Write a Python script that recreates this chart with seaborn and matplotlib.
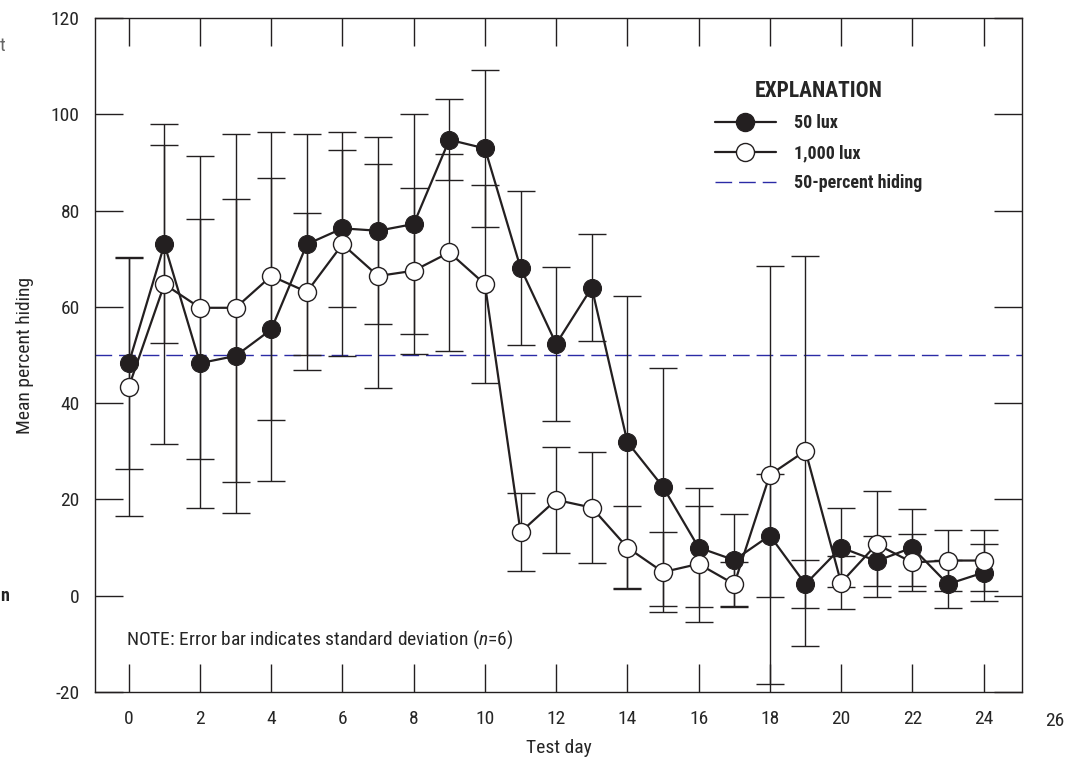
import numpy as np
import pandas as pd
import matplotlib
matplotlib.use("Agg")
import matplotlib.pyplot as plt
import seaborn as sns
from matplotlib.lines import Line2D

# Data
days = list(range(25))
lux50_mean = [48.3, 73.0, 48.3, 49.8, 55.3, 73.0, 76.3, 75.8, 77.2, 94.7, 92.9, 68.1, 52.3,
              64.0, 31.9, 22.6, 10.0, 7.4, 12.5, 2.4, 10.0, 7.2, 10.0, 2.4, 4.8]
lux50_sd = [22.0, 20.6, 30.0, 32.7, 31.5, 23.0, 16.3, 19.4, 22.8, 8.4, 16.3, 16.0, 16.0,
            11.1, 30.4, 24.7, 12.4, 9.5, 12.7, 5.0, 8.2, 5.2, 8.0, 5.0, 5.9]
lux1000_mean = [43.4, 64.7, 59.8, 59.8, 66.4, 63.1, 73.0, 66.4, 67.5, 71.3, 64.7, 13.2, 19.9,
                18.3, 10.0, 4.9, 6.6, 2.4, 25.1, 30.1, 2.7, 10.7, 6.9, 7.3, 7.3]
lux1000_sd = [26.8, 33.2, 31.5, 36.2, 30.0, 16.3, 23.3, 23.3, 17.2, 20.4, 20.6, 8.1, 11.0,
              11.6, 8.7, 8.3, 12.0, 4.7, 43.4, 40.5, 5.5, 11.0, 6.0, 6.3, 6.3]
threshold = 50

df = pd.DataFrame({
    "day": days,
    "lux50": lux50_mean, "lux50_sd": lux50_sd,
    "lux1000": lux1000_mean, "lux1000_sd": lux1000_sd,
})

sns.set_style("ticks")
plt.rcParams["font.family"] = ["Roboto Condensed", "DejaVu Sans"]
plt.rcParams["font.stretch"] = "condensed"
plt.rcParams["axes.unicode_minus"] = False
plt.rcParams["mathtext.fontset"] = "custom"
plt.rcParams["mathtext.rm"] = "Roboto Condensed"
plt.rcParams["mathtext.it"] = "Roboto Condensed:italic"

ink = "#231f20"
blue = "#2b2ba6"

fig = plt.figure(figsize=(10.66, 7.58), dpi=100)
ax = fig.add_axes([0.0891, 0.0871, 0.8696, 0.8892])

# error bars (drawn first, markers go on top)
for col in ["lux50", "lux1000"]:
    ax.errorbar(df["day"], df[col], yerr=df[col + "_sd"], fmt="none", ecolor=ink,
                elinewidth=1.0, capsize=10, capthick=1.0, zorder=2)

ax.axhline(threshold, color=blue, lw=1.0, dashes=(12, 5), zorder=1)

sns.lineplot(data=df, x="day", y="lux50", ax=ax, color=ink, lw=1.6,
             marker="o", markersize=13, markerfacecolor=ink,
             markeredgecolor=ink, zorder=3)
sns.lineplot(data=df, x="day", y="lux1000", ax=ax, color=ink, lw=1.6,
             marker="o", markersize=13, markerfacecolor="white",
             markeredgecolor=ink, markeredgewidth=1.0, zorder=4)

ax.set_xlim(-0.95, 25.08)
ax.set_ylim(-20, 120)
ax.set_xticks(range(0, 25, 2))
ax.set_yticks(range(-20, 121, 20))
ax.tick_params(axis="both", direction="in", length=20, width=1.0, color=ink,
               labelsize=14, top=True, right=True)
ax.tick_params(axis="x", pad=13)
ax.tick_params(axis="y", pad=11)
for s in ax.spines.values():
    s.set_linewidth(1.0)
    s.set_color(ink)

# "26" label sits just beyond the right frame
ax.text(26, -0.0295, "26", transform=ax.get_xaxis_transform(), ha="center", va="top",
        fontsize=14, clip_on=False)

ax.set_xlabel("Test day", fontsize=14, labelpad=8)
ax.set_ylabel("Mean percent hiding", fontsize=14, labelpad=12)

ax.text(0.033, 0.077, r"NOTE: Error bar indicates standard deviation ($\it{n}$=6)",
        transform=ax.transAxes, fontsize=14, ha="left", va="center")

# legend ("EXPLANATION")
handles = [
    Line2D([], [], color=ink, lw=1.6, marker="o", markersize=13,
           markerfacecolor=ink, markeredgecolor=ink),
    Line2D([], [], color=ink, lw=1.6, marker="o", markersize=13,
           markerfacecolor="white", markeredgecolor=ink),
    Line2D([], [], color=blue, lw=1.0, dashes=(12, 5)),
]
leg = ax.legend(handles, ["50 lux", "1,000 lux", "50-percent hiding"],
                title="EXPLANATION", loc="upper left", bbox_to_anchor=(0.651, 0.932),
                frameon=False, handlelength=3.4, handletextpad=1.0, labelspacing=0.67,
                prop={"weight": "bold", "size": 13})
leg.get_title().set_fontweight("bold")
leg.get_title().set_fontsize(15.5)

# stray letters at the far left edge of the page
fig.text(0.0, 0.939, "t", fontsize=14, ha="left", va="center", color="#666666")
fig.text(0.0, 0.214, "n", fontsize=13, ha="left", va="center", color="#222222",
         fontweight="bold")

fig.savefig("out.png", dpi=100)
